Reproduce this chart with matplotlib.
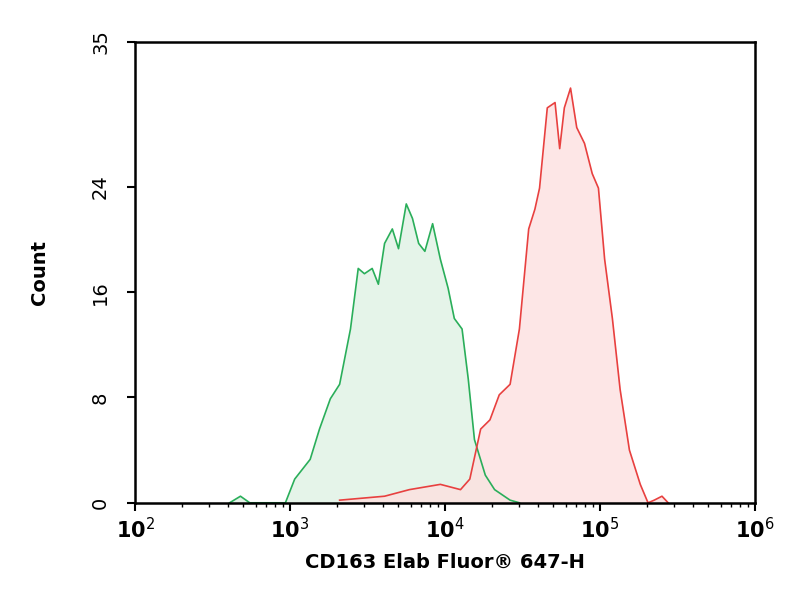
import numpy as np
import matplotlib
matplotlib.use('Agg')
import matplotlib.pyplot as plt

# log10 of fluorescence and counts
green_exp = [2.61, 2.68, 2.74, 2.97, 3.03, 3.13, 3.19, 3.26, 3.32, 3.39, 3.44, 3.48, 3.53, 3.57,
             3.61, 3.66, 3.70, 3.75, 3.79, 3.83, 3.87, 3.92, 3.97, 4.02, 4.06, 4.11, 4.15,
             4.19, 4.26, 4.32, 4.42, 4.48]
green_cnt = [0, 0.5, 0, 0, 1.8, 3.3, 5.6, 7.9, 9.0, 13.2, 17.8, 17.4, 17.8, 16.6,
             19.7, 20.8, 19.3, 22.7, 21.6, 19.7, 19.1, 21.2, 18.5, 16.3, 14.0, 13.2, 9.4,
             4.8, 2.1, 1.0, 0.2, 0]
red_exp = [3.32, 3.61, 3.77, 3.97, 4.10, 4.16, 4.23, 4.29, 4.35, 4.42, 4.48, 4.54, 4.58, 4.61,
           4.66, 4.71, 4.74, 4.77, 4.81, 4.85, 4.90, 4.95, 4.99, 5.03, 5.08, 5.13, 5.19,
           5.26, 5.31, 5.35, 5.40, 5.44]
red_cnt = [0.2, 0.5, 1.0, 1.4, 1.0, 1.8, 5.6, 6.3, 8.2, 9.0, 13.2, 20.8, 22.3, 23.9,
           30.0, 30.4, 26.9, 30.0, 31.5, 28.5, 27.3, 25.0, 23.9, 18.5, 14.0, 8.6, 4.0,
           1.4, 0, 0.2, 0.5, 0]
y_ticks = [0, 8, 16, 24, 35]
x_ticks = [1e2, 1e3, 1e4, 1e5, 1e6]
x_labels = ['10$^{2}$', '10$^{3}$', '10$^{4}$', '10$^{5}$', '10$^{6}$']

fig = plt.figure(figsize=(8.04, 6), dpi=100)
ax = fig.add_axes([0.168, 0.162, 0.771, 0.768])

gx = 10 ** np.array(green_exp)
rx = 10 ** np.array(red_exp)
ax.fill_between(gx, green_cnt, color='#dff2e4', alpha=0.8, lw=0)
ax.fill_between(rx, red_cnt, color='#fde0e0', alpha=0.8, lw=0)
ax.plot(gx, green_cnt, color='#2aae5a', lw=1.2)
ax.plot(rx, red_cnt, color='#e8403f', lw=1.2)

ax.set_xscale('log')
ax.set_xlim(1e2, 1e6)
ax.set_ylim(0, 35)
ax.set_xticks(x_ticks)
ax.set_xticklabels(x_labels, fontsize=15, fontweight='bold')
ax.set_yticks(y_ticks)
ax.set_yticklabels([str(v) for v in y_ticks], rotation=90, va='center', fontsize=14)
ax.tick_params(axis='both', which='major', direction='out', length=6, width=1.5)
ax.tick_params(axis='y', pad=12)
ax.tick_params(axis='x', pad=4)
ax.tick_params(axis='x', which='minor', direction='out', length=3, width=1)
for s in ax.spines.values():
    s.set_linewidth(1.8)
ax.set_xlabel('CD163 Elab Fluor® 647-H', fontsize=14, fontweight='bold', labelpad=8)
ax.set_ylabel('Count', fontsize=14, fontweight='bold', labelpad=30)
fig.savefig('out.png', dpi=100)
